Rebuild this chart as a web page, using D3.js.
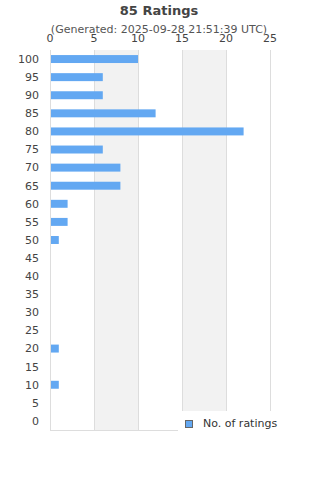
<!DOCTYPE html>
<html>
<head>
<meta charset="utf-8">
<script src="https://cdn.jsdelivr.net/npm/d3@7"></script>
<style>
  body { margin: 0; background: #fff; }
  text { font-family: "DejaVu Sans", sans-serif; }
</style>
</head>
<body>
<svg></svg>
<script>
// Rating buckets (top to bottom) and number of ratings in each
var ratings = ["100", "95", "90", "85", "80", "75", "70", "65", "60", "55", "50",
               "45", "40", "35", "30", "25", "20", "15", "10", "5", "0"];
var counts = [10, 6, 6, 12, 22, 6, 8, 8, 2, 2, 1, 0, 0, 0, 0, 0, 1, 0, 1, 0, 0];
var xTicks = [0, 5, 10, 15, 20, 25];

var margin = {top: 50, right: 50, bottom: 50, left: 50},
    width = 320 - margin.left - margin.right,
    height = 480 - margin.top - margin.bottom;

var root = d3.select("svg")
    .attr("width", 320)
    .attr("height", 480);

// Title and subtitle
root.append("text")
    .attr("x", 159).attr("y", 15)
    .attr("text-anchor", "middle")
    .attr("font-size", 13).attr("font-weight", "bold")
    .attr("fill", "#444")
    .text("85 Ratings");
root.append("text")
    .attr("x", 159).attr("y", 33)
    .attr("text-anchor", "middle")
    .attr("font-size", 11)
    .attr("fill", "#555")
    .text("(Generated: 2025-09-28 21:51:39 UTC)");

var svg = root.append("g")
    .attr("transform", "translate(" + margin.left + "," + margin.top + ")");

var x = d3.scaleLinear().domain([0, 25]).range([0, width]);
var y = d3.scaleBand().domain(ratings).range([0, height]).paddingInner(0.56).paddingOuter(0.28);

// Alternating background bands
svg.selectAll(".band")
    .data([[5, 10], [15, 20]])
  .enter().append("rect")
    .attr("x", function(d) { return x(d[0]); })
    .attr("width", function(d) { return x(d[1]) - x(d[0]); })
    .attr("y", 0)
    .attr("height", height)
    .attr("fill", "#f2f2f2");

// Vertical grid lines
svg.selectAll(".grid")
    .data(xTicks)
  .enter().append("line")
    .attr("x1", function(d) { return Math.round(x(d)) + 0.5; })
    .attr("x2", function(d) { return Math.round(x(d)) + 0.5; })
    .attr("y1", 0).attr("y2", height)
    .attr("stroke", "#ddd");

// Bottom axis line
svg.append("line")
    .attr("x1", 0).attr("x2", width)
    .attr("y1", height + 0.5).attr("y2", height + 0.5)
    .attr("stroke", "#ddd");

// Top axis tick labels
svg.selectAll(".xlabel")
    .data(xTicks)
  .enter().append("text")
    .attr("x", function(d) { return x(d); })
    .attr("y", -8)
    .attr("text-anchor", "middle")
    .attr("font-size", 11)
    .attr("fill", "#444")
    .text(function(d) { return d; });

// Category labels
svg.selectAll(".ylabel")
    .data(ratings)
  .enter().append("text")
    .attr("x", -11)
    .attr("y", function(d) { return y(d) + y.bandwidth() / 2; })
    .attr("dy", "0.35em")
    .attr("text-anchor", "end")
    .attr("font-size", 11)
    .attr("fill", "#444")
    .text(function(d) { return d; });

// Bars
svg.selectAll(".bar")
    .data(counts)
  .enter().append("rect")
    .attr("x", x(0) + 1)
    .attr("y", function(d, i) { return y(ratings[i]); })
    .attr("width", function(d) { return Math.max(0, x(d) - x(0) - 1); })
    .attr("height", y.bandwidth())
    .attr("fill", "#63a8f2");

// Legend with white background
var legend = root.append("g").attr("transform", "translate(178,411)");
legend.append("rect")
    .attr("width", 142).attr("height", 22)
    .attr("fill", "#fff");
legend.append("rect")
    .attr("x", 7.5).attr("y", 9.5)
    .attr("width", 7).attr("height", 7)
    .attr("fill", "#63a8f2")
    .attr("stroke", "#666");
legend.append("text")
    .attr("x", 25).attr("y", 16)
    .attr("font-size", 11)
    .attr("fill", "#333")
    .text("No. of ratings");
</script>
</body>
</html>
